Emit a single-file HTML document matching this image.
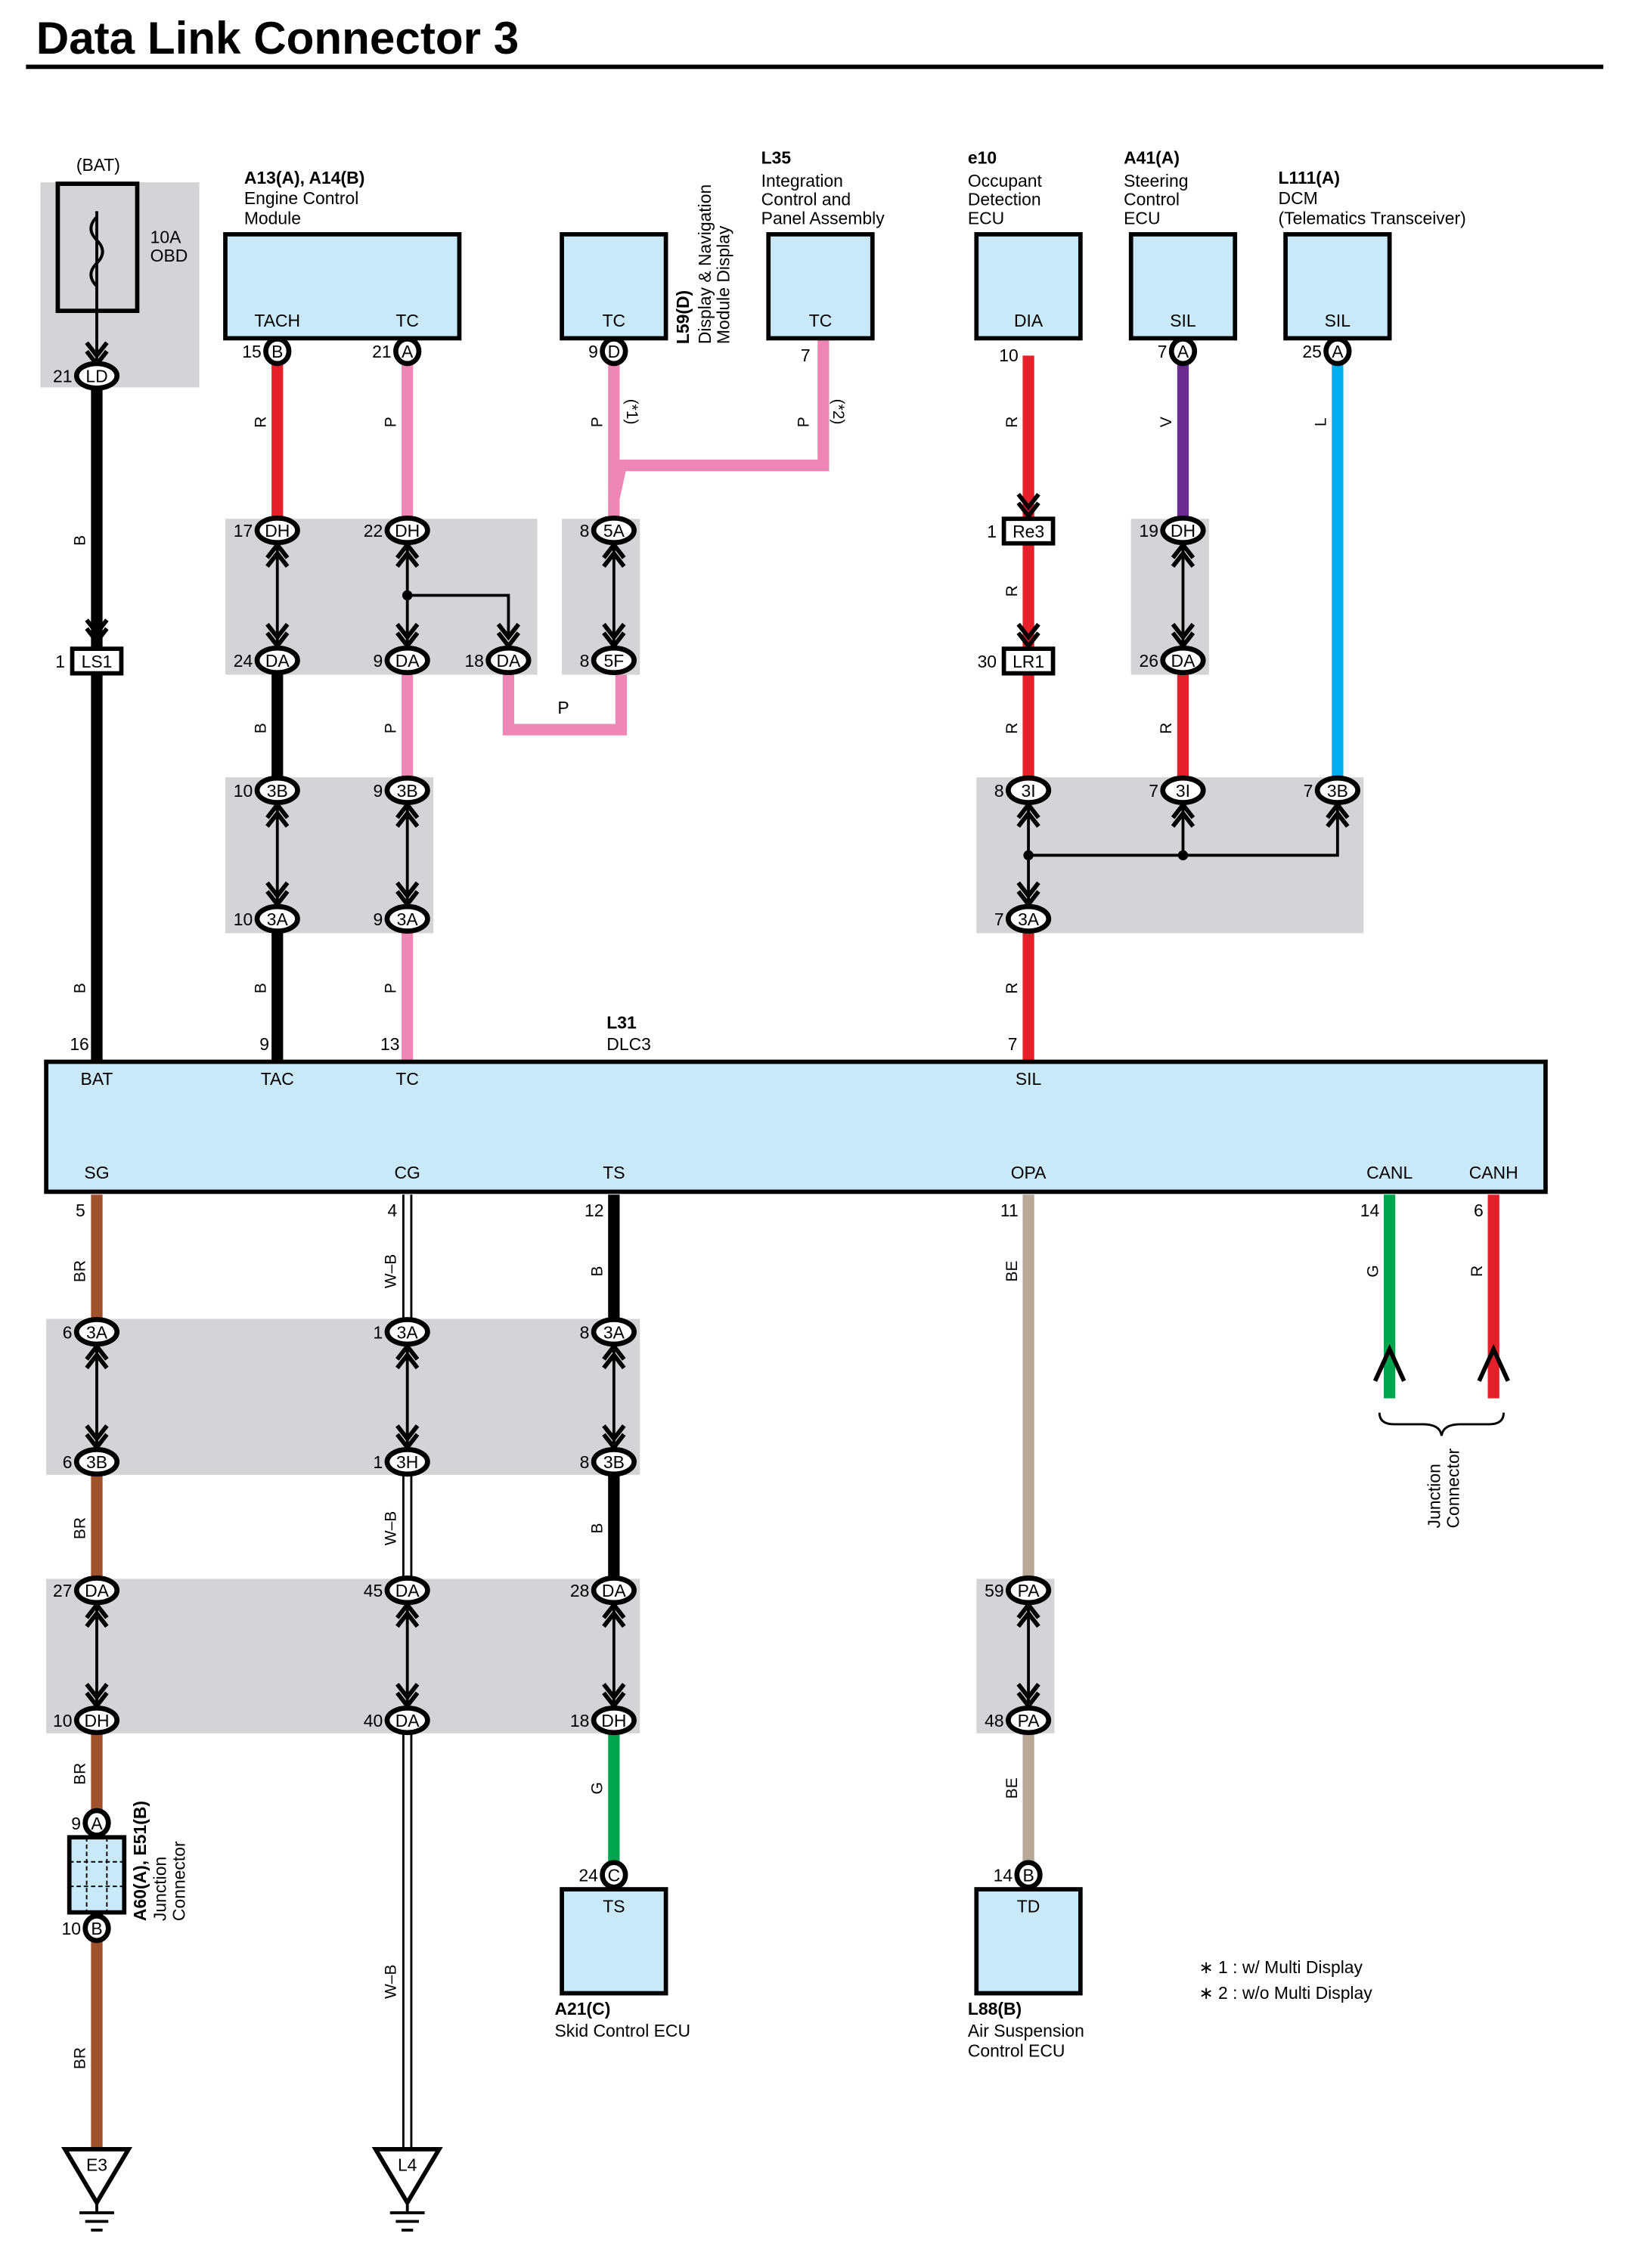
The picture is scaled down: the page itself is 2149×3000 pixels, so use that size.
<!DOCTYPE html>
<html><head><meta charset="utf-8"><style>
html,body{margin:0;padding:0;background:#fff}
svg{display:block}
text{font-family:"Liberation Sans",sans-serif}
</style></head><body>
<svg id="s" xmlns="http://www.w3.org/2000/svg" width="2149" height="3000" viewBox="0 0 1125 1570">
<rect width="1125" height="1570" fill="#fff"/>
</svg>
<script>
const s=document.getElementById('s');let h='';
const R='#e5202a',P='#ee87b4',BR='#a0522d',TAN='#b8a898',G='#00a550',BL='#00aeef',PU='#6a2c91',GR='#d4d4d6',BX='#c9e8f8';
function rect(x1,y1,x2,y2,f,st){h+=`<rect x="${x1}" y="${y1}" width="${x2-x1}" height="${y2-y1}" fill="${f}" ${st?'stroke="#000" stroke-width="3"':''}/>`;}
function w(x,y1,y2,c){h+=`<line x1="${x}" y1="${y1}" x2="${x}" y2="${y2}" stroke="${c}" stroke-width="8"/>`;}
function wb(x,y1,y2){h+=`<line x1="${x}" y1="${y1}" x2="${x}" y2="${y2}" stroke="#000" stroke-width="7"/><line x1="${x}" y1="${y1}" x2="${x}" y2="${y2}" stroke="#fff" stroke-width="4"/>`;}
function poly(pts,c,sw){h+=`<polyline points="${pts}" fill="none" stroke="${c}" stroke-width="${sw||8}"/>`;}
function t(x,y,s,sz,anc,wt,rot){h+=`<text x="${x}" y="${y}" font-size="${sz||12}" ${anc?`text-anchor="${anc}"`:''} ${wt?'font-weight="bold"':''} ${rot?`transform="rotate(-90 ${x} ${y})"`:''}>${s}</text>`;}
function c(x,y,lab,num){const one=lab.length==1;const rx=one?8:14;
h+=`<ellipse cx="${x}" cy="${y}" rx="${rx}" ry="8.5" fill="#fff" stroke="#000" stroke-width="3.5"/>`;t(x,y+4.5,lab,12,'middle');
if(num!==undefined)t(x-rx-3,y+4.5,num,12,'end');}
function ch(x,y,dir){h+=`<polyline points="${x-7},${y-dir*9} ${x},${y} ${x+7},${y-dir*9}" fill="none" stroke="#000" stroke-width="3"/>`;}
function link(x,y1,y2){h+=`<line x1="${x}" y1="${y1+8}" x2="${x}" y2="${y2-8}" stroke="#000" stroke-width="2"/>`;ch(x,y1+10,-1);ch(x,y1+16,-1);ch(x,y2-10,1);ch(x,y2-16,1);}
// title
t(25,37,'Data Link Connector 3',31.5,null,1);
h+=`<line x1="18" y1="46" x2="1110" y2="46" stroke="#000" stroke-width="3"/>`;
// wires top
w(67,255,735,'#000');
w(192,243,367,R);w(192,457,735,'#000');w(282,243,735,P);
poly('352,457 352,505 430,505 430,457',P);w(425,243,367,P);
poly('570,234 570,322 430,322 425,345',P);
w(712,246,735,R);w(819,243,367,PU);w(819,457,547,R);w(926,243,547,BL);
// gray areas top
rect(28,126,138,268,GR);rect(156,359,372,467,GR);rect(389,359,443,467,GR);rect(156,538,300,646,GR);
rect(783,359,837,467,GR);rect(676,538,944,646,GR);
// fuse
rect(40,127,95,215,'none',1);h+=`<path d="M67,150 q-8,8 0,16 q8,8 0,16 q-8,8 0,16" fill="none" stroke="#000" stroke-width="2"/><line x1="67" y1="146" x2="67" y2="250" stroke="#000" stroke-width="2"/>`;
ch(67,252,1);ch(67,246,1);
t(68,118,'(BAT)',12,'middle');t(104,168,'10A',12);t(104,181,'OBD',12);
c(67,260,'LD','21');
// LS1
ch(67,444,1);ch(67,438,1);rect(50,449,84,466,'#fff',1);t(67,462,'LS1',12,'middle');t(45,462,'1',12,'end');
// boxes top
rect(156,162,318,234,BX,1);t(192,226,'TACH',12,'middle');t(282,226,'TC',12,'middle');
c(192,243,'B','15');c(282,243,'A','21');
t(169,127,'A13(A), A14(B)',12,null,1);t(169,141,'Engine Control',12);t(169,155,'Module',12);
rect(389,162,461,234,BX,1);t(425,226,'TC',12,'middle');c(425,243,'D','9');
t(477,238,'L59(D)',12,null,1,1);t(492,238,'Display &amp; Navigation',12,null,0,1);t(505,238,'Module Display',12,null,0,1);
rect(532,162,604,234,BX,1);t(568,226,'TC',12,'middle');t(561,250,'7',12,'end');
t(527,113,'L35',12,null,1);t(527,129,'Integration',12);t(527,142,'Control and',12);t(527,155,'Panel Assembly',12);
rect(676,162,748,234,BX,1);t(712,226,'DIA',12,'middle');t(705,250,'10',12,'end');
t(670,113,'e10',12,null,1);t(670,129,'Occupant',12);t(670,142,'Detection',12);t(670,155,'ECU',12);
rect(783,162,855,234,BX,1);t(819,226,'SIL',12,'middle');c(819,243,'A','7');
t(778,113,'A41(A)',12,null,1);t(778,129,'Steering',12);t(778,142,'Control',12);t(778,155,'ECU',12);
rect(890,162,962,234,BX,1);t(926,226,'SIL',12,'middle');c(926,243,'A','25');
t(885,127,'L111(A)',12,null,1);t(885,141,'DCM',12);t(885,155,'(Telematics Transceiver)',12);
// junctions
link(192,367,457);link(282,367,457);
h+=`<polyline points="282,412 352,412 352,441" fill="none" stroke="#000" stroke-width="2"/><circle cx="282" cy="412" r="3.5"/>`;ch(352,447,1);ch(352,441,1);
c(192,367,'DH','17');c(282,367,'DH','22');c(192,457,'DA','24');c(282,457,'DA','9');c(352,457,'DA','18');
link(425,367,457);c(425,367,'5A','8');c(425,457,'5F','8');t(390,494,'P',12,'middle');
link(192,547,636);link(282,547,636);c(192,547,'3B','10');c(282,547,'3B','9');c(192,636,'3A','10');c(282,636,'3A','9');
ch(712,357,1);ch(712,351,1);rect(695,359,729,376,'#fff',1);t(712,372,'Re3',12,'middle');t(690,372,'1',12,'end');
ch(712,447,1);ch(712,441,1);rect(695,449,729,466,'#fff',1);t(712,462,'LR1',12,'middle');t(690,462,'30',12,'end');
link(819,367,457);c(819,367,'DH','19');c(819,457,'DA','26');
h+=`<polyline points="712,556 712,627" fill="none" stroke="#000" stroke-width="2"/><polyline points="712,592 926,592 926,556" fill="none" stroke="#000" stroke-width="2"/><line x1="819" y1="556" x2="819" y2="592" stroke="#000" stroke-width="2"/><circle cx="712" cy="592" r="3.5"/><circle cx="819" cy="592" r="3.5"/>`;
[712,819,926].forEach(x=>{ch(x,557,-1);ch(x,563,-1);});ch(712,626,1);ch(712,620,1);
c(712,547,'3I','8');c(819,547,'3I','7');c(926,547,'3B','7');c(712,636,'3A','7');
[[180,288,'R'],[270,288,'P'],[413,288,'P'],[700,288,'R'],[807,288,'V'],[914,288,'L'],[556,288,'P'],[55,370,'B'],[180,500,'B'],[270,500,'P'],[700,405,'R'],[700,500,'R'],[807,500,'R'],[55,680,'B'],[180,680,'B'],[270,680,'P'],[700,680,'R']].forEach(a=>t(a[0]+4,a[1]+4,a[2],11,'middle',0,1));
h+=`<text x="434" y="276" font-size="11" transform="rotate(90 434 276)">(*1)</text><text x="577" y="276" font-size="11" transform="rotate(90 577 276)">(*2)</text>`;
// DLC3
t(55,727,'16',12,'middle');t(183,727,'9',12,'middle');t(270,727,'13',12,'middle');t(701,727,'7',12,'middle');
t(420,712,'L31',12,null,1);t(420,727,'DLC3',12);
rect(32,735,1070,825,BX,1);
[[67,'BAT'],[192,'TAC'],[282,'TC'],[712,'SIL']].forEach(a=>t(a[0],751,a[1],12,'middle'));
[[67,'SG'],[282,'CG'],[425,'TS'],[712,'OPA'],[962,'CANL'],[1034,'CANH']].forEach(a=>t(a[0],816,a[1],12,'middle'));
// bottom wires
w(67,827,1490,BR);wb(282,827,1490);w(425,827,1190,'#000');w(425,1190,1298,G);w(712,827,1298,TAN);
w(962,827,968,G);w(1034,827,968,R);
// bottom grays
rect(32,913,443,1021,GR);rect(32,1093,443,1200,GR);rect(676,1093,730,1200,GR);
[962,1034].forEach(x=>{h+=`<polyline points="${x-10},956 ${x},934 ${x+10},956" fill="none" stroke="#000" stroke-width="3"/>`;});
h+=`<path d="M955,978 q0,8 10,8 h20 q12,0 13,8 q1,-8 13,-8 h20 q10,0 10,-8" fill="none" stroke="#000" stroke-width="1.5"/>`;
t(997,1058,'Junction',12,null,0,1);t(1010,1058,'Connector',12,null,0,1);
[[59,838,'5'],[275,838,'4'],[418,838,'12'],[705,838,'11'],[955,838,'14'],[1027,838,'6']].forEach(a=>t(a[0],a[1]+4,a[2],12,'end'));
[[55,880,'BR'],[270,880,'W–B'],[413,880,'B'],[700,880,'BE'],[950,880,'G'],[1022,880,'R'],[55,1058,'BR'],[270,1058,'W–B'],[413,1058,'B'],[55,1228,'BR'],[413,1238,'G'],[700,1238,'BE'],[270,1372,'W–B'],[55,1425,'BR']].forEach(a=>t(a[0]+4,a[1],a[2],11,'middle',0,1));
[67,282,425].forEach(x=>{link(x,922,1012);link(x,1101,1191);});
c(67,922,'3A','6');c(282,922,'3A','1');c(425,922,'3A','8');
c(67,1012,'3B','6');c(282,1012,'3H','1');c(425,1012,'3B','8');
c(67,1101,'DA','27');c(282,1101,'DA','45');c(425,1101,'DA','28');
c(67,1191,'DH','10');c(282,1191,'DA','40');c(425,1191,'DH','18');
link(712,1101,1191);c(712,1101,'PA','59');c(712,1191,'PA','48');
// junction connector
rect(48,1272,86,1324,BX,1);h+=`<line x1="48" y1="1289" x2="86" y2="1289" stroke="#000" stroke-dasharray="3,2"/><line x1="48" y1="1306" x2="86" y2="1306" stroke="#000" stroke-dasharray="3,2"/><line x1="60" y1="1272" x2="60" y2="1324" stroke="#000" stroke-dasharray="3,2"/><line x1="74" y1="1272" x2="74" y2="1324" stroke="#000" stroke-dasharray="3,2"/>`;
c(67,1262,'A','9');c(67,1335,'B','10');
t(101,1330,'A60(A), E51(B)',12,null,1,1);t(115,1330,'Junction',12,null,0,1);t(128,1330,'Connector',12,null,0,1);
rect(389,1308,461,1380,BX,1);t(425,1324,'TS',12,'middle');c(425,1298,'C','24');
t(384,1395,'A21(C)',12,null,1);t(384,1410,'Skid Control ECU',12);
rect(676,1308,748,1380,BX,1);t(712,1324,'TD',12,'middle');c(712,1298,'B','14');
t(670,1395,'L88(B)',12,null,1);t(670,1410,'Air Suspension',12);t(670,1424,'Control ECU',12);
t(830,1366,'∗ 1 : w/ Multi Display',12);t(830,1384,'∗ 2 : w/o Multi Display',12);
[[67,'E3'],[282,'L4']].forEach(a=>{const x=a[0];h+=`<polygon points="${x-22},1488 ${x+22},1488 ${x},1525" fill="#fff" stroke="#000" stroke-width="3"/><line x1="${x}" y1="1525" x2="${x}" y2="1532" stroke="#000" stroke-width="2"/><line x1="${x-12}" y1="1532" x2="${x+12}" y2="1532" stroke="#000" stroke-width="2"/><line x1="${x-8}" y1="1538" x2="${x+8}" y2="1538" stroke="#000" stroke-width="2"/><line x1="${x-4}" y1="1544" x2="${x+4}" y2="1544" stroke="#000" stroke-width="2"/>`;t(x,1503,a[1],12,'middle');});
s.innerHTML+=h;
</script>
</body></html>
